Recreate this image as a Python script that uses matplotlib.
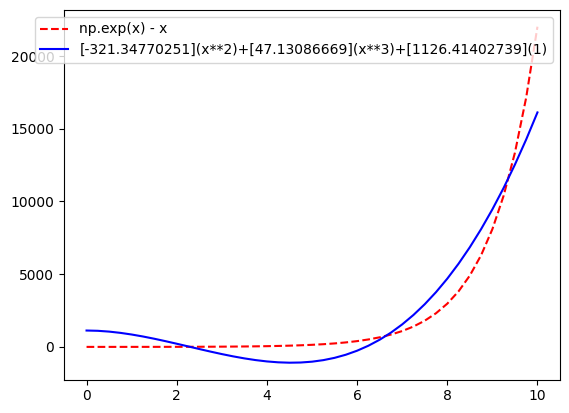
import matplotlib
matplotlib.use("Agg")
import matplotlib.pyplot as plt

# sample positions and values
x = [0.0, 0.25, 0.5, 0.75, 1.0, 1.25, 1.5, 1.75, 2.0, 2.25, 2.5, 2.75, 3.0, 3.25,
     3.5, 3.75, 4.0, 4.25, 4.5, 4.75, 5.0, 5.25, 5.5, 5.75, 6.0, 6.25, 6.5, 6.75,
     7.0, 7.25, 7.5, 7.75, 8.0, 8.25, 8.5, 8.75, 9.0, 9.25, 9.5, 9.75, 10.0]

exp_minus_x = [1.0, 1.034, 1.149, 1.367, 1.718, 2.240, 2.982, 4.005, 5.389, 7.238,
               9.683, 12.893, 17.086, 22.540, 29.615, 38.771, 50.598, 65.855, 85.517,
               110.834, 143.413, 185.316, 239.192, 308.441, 397.429, 511.763, 658.642,
               847.309, 1089.633, 1400.855, 1800.542, 2313.822, 2972.958, 3819.376,
               4906.269, 6301.938, 8094.084, 10395.32, 13350.23, 17144.48, 22016.47]

poly_fit = [1126.41, 1107.07, 1051.97, 965.54, 852.20, 716.36, 562.45, 394.88, 218.07,
            36.44, -145.59, -323.60, -493.18, -649.91, -789.36, -907.12, -998.77,
            -1059.90, -1086.10, -1072.89, -1015.92, -910.70, -752.93, -538.14, -261.84,
            80.29, 492.68, 979.97, 1546.26, 2195.95, 2934.00, 3764.19, 4691.17, 5719.45,
            6853.37, 8097.22, 9455.65, 10932.88, 12533.48, 14261.86, 16122.51]

labels = ["np.exp(x) - x",
          "[-321.34770251](x**2)+[47.13086669](x**3)+[1126.41402739](1)"]

fig = plt.figure(figsize=(5.69, 4.13), dpi=100)
ax = fig.add_axes([64 / 569, 33.5 / 413, 496 / 569, 369.6 / 413])
ax.plot(x, exp_minus_x, "r--", label=labels[0])
ax.plot(x, poly_fit, "b-", label=labels[1])
ax.legend(loc="upper right")
fig.savefig("out.png", dpi=100)
